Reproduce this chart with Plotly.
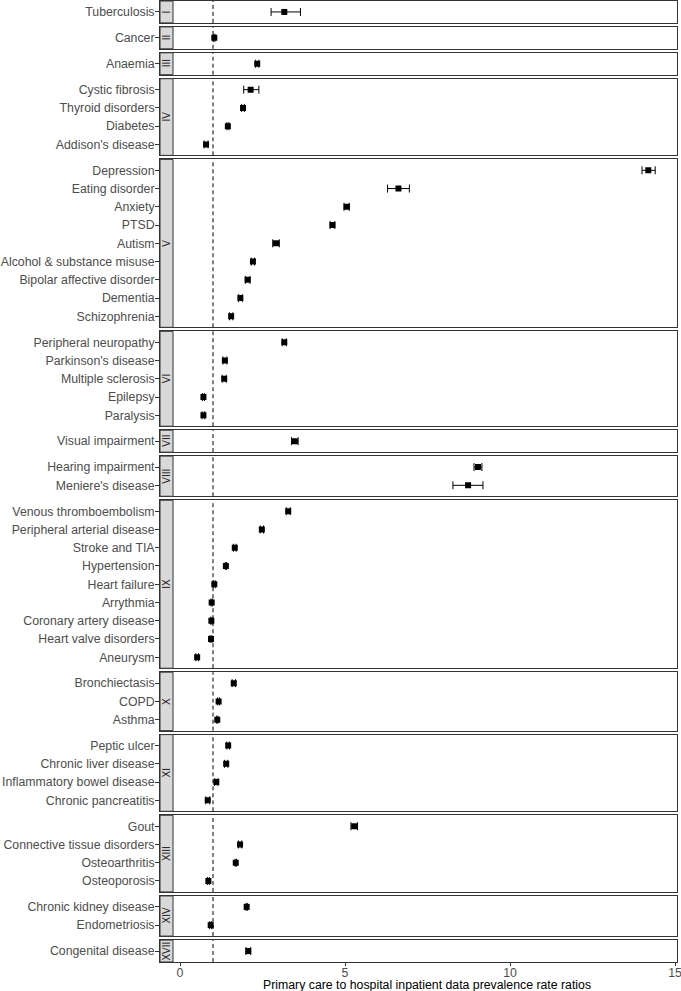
import plotly.graph_objects as go
from plotly.subplots import make_subplots

chapter_order = ["I", "II", "III", "IV", "V", "VI", "VII", "VIII", "IX", "X", "XI", "XIII", "XIV", "XVII"]

conditions = [
    "Tuberculosis", "Cancer", "Anaemia",
    "Cystic fibrosis", "Thyroid disorders", "Diabetes", "Addison's disease",
    "Depression", "Eating disorder", "Anxiety", "PTSD", "Autism",
    "Alcohol & substance misuse", "Bipolar affective disorder", "Dementia", "Schizophrenia",
    "Peripheral neuropathy", "Parkinson's disease", "Multiple sclerosis", "Epilepsy", "Paralysis",
    "Visual impairment",
    "Hearing impairment", "Meniere's disease",
    "Venous thromboembolism", "Peripheral arterial disease", "Stroke and TIA", "Hypertension",
    "Heart failure", "Arrythmia", "Coronary artery disease", "Heart valve disorders", "Aneurysm",
    "Bronchiectasis", "COPD", "Asthma",
    "Peptic ulcer", "Chronic liver disease", "Inflammatory bowel disease", "Chronic pancreatitis",
    "Gout", "Connective tissue disorders", "Osteoarthritis", "Osteoporosis",
    "Chronic kidney disease", "Endometriosis",
    "Congenital disease",
]

chapters = [
    "I", "II", "III",
    "IV", "IV", "IV", "IV",
    "V", "V", "V", "V", "V", "V", "V", "V", "V",
    "VI", "VI", "VI", "VI", "VI",
    "VII",
    "VIII", "VIII",
    "IX", "IX", "IX", "IX", "IX", "IX", "IX", "IX", "IX",
    "X", "X", "X",
    "XI", "XI", "XI", "XI",
    "XIII", "XIII", "XIII", "XIII",
    "XIV", "XIV",
    "XVII",
]

rate_ratio = [
    3.16, 1.04, 2.34,
    2.14, 1.91, 1.45, 0.79,
    14.19, 6.62, 5.05, 4.62, 2.91, 2.21, 2.05, 1.83, 1.55,
    3.16, 1.36, 1.34, 0.71, 0.71,
    3.48,
    9.03, 8.73,
    3.28, 2.48, 1.66, 1.39, 1.04, 0.96, 0.95, 0.94, 0.52,
    1.63, 1.17, 1.13,
    1.46, 1.40, 1.10, 0.84,
    5.28, 1.82, 1.69, 0.86,
    2.02, 0.93,
    2.07,
]

ci_lower = [
    2.76, 1.02, 2.29,
    1.93, 1.87, 1.42, 0.73,
    14.00, 6.29, 4.97, 4.55, 2.81, 2.16, 1.98, 1.77, 1.50,
    3.10, 1.30, 1.28, 0.68, 0.67,
    3.38,
    8.91, 8.27,
    3.22, 2.43, 1.62, 1.37, 1.01, 0.94, 0.93, 0.91, 0.48,
    1.58, 1.14, 1.11,
    1.42, 1.35, 1.05, 0.78,
    5.18, 1.77, 1.67, 0.83,
    2.00, 0.90,
    2.00,
]

ci_upper = [
    3.65, 1.06, 2.39,
    2.39, 1.95, 1.48, 0.85,
    14.40, 6.95, 5.13, 4.69, 3.01, 2.26, 2.12, 1.89, 1.60,
    3.22, 1.42, 1.40, 0.74, 0.75,
    3.58,
    9.15, 9.18,
    3.34, 2.53, 1.70, 1.41, 1.07, 0.98, 0.97, 0.97, 0.56,
    1.68, 1.20, 1.15,
    1.50, 1.45, 1.15, 0.90,
    5.38, 1.87, 1.71, 0.89,
    2.04, 0.96,
    2.14,
]

x_tick_values = [0, 5, 10, 15]
x_title = "Primary care to hospital inpatient data prevalence rate ratios"
reference_line = 1

W, H = 681, 991
ML, MR, MT, MB = 160, 4, 1, 29
plot_w = W - ML - MR
plot_h = H - MT - MB
px_per_unit = 33.0
x0_px = 180.0  # pixel position of x=0
x_range = [(ML - x0_px) / px_per_unit, (W - MR - x0_px) / px_per_unit]
strip_w = 13
FONT = "Liberation Sans, Arial, sans-serif"

groups = []
for ch in chapter_order:
    idx = [i for i, c in enumerate(chapters) if c == ch]
    groups.append((ch, idx))

row_heights = [len(idx) + 0.2 for _, idx in groups]
gap_px = 4

fig = make_subplots(rows=len(groups), cols=1, shared_xaxes=True,
                    row_heights=row_heights, vertical_spacing=gap_px / plot_h)

axis_color = "#333333"
text_color = "#4D4D4D"

for r, (ch, idx) in enumerate(groups, start=1):
    names = [conditions[i] for i in idx]
    xs = [rate_ratio[i] for i in idx]
    plus = [ci_upper[i] - rate_ratio[i] for i in idx]
    minus = [rate_ratio[i] - ci_lower[i] for i in idx]
    fig.add_trace(go.Scatter(
        x=xs, y=names, mode="markers",
        marker=dict(symbol="square", size=6, color="black"),
        error_x=dict(type="data", symmetric=False, array=plus, arrayminus=minus,
                     color="black", thickness=1, width=4),
        showlegend=False, hoverinfo="x+y",
    ), row=r, col=1)
    n = len(names)
    yname = "y" if r == 1 else f"y{r}"
    xname = "x" if r == 1 else f"x{r}"
    fig.update_yaxes(type="category", categoryorder="array", categoryarray=names,
                     range=[n - 0.4, -0.6], showline=True, mirror=True,
                     linecolor=axis_color, linewidth=1, ticks="outside", ticklen=4,
                     tickcolor=axis_color, showgrid=False, zeroline=False, automargin=False,
                     ticklabelstandoff=-2,
                     tickfont=dict(family=FONT, size=12.3, color=text_color),
                     fixedrange=True, row=r, col=1)
    last = r == len(groups)
    fig.update_xaxes(range=x_range, showline=True, mirror=True, linecolor=axis_color,
                     linewidth=1, showgrid=False, zeroline=False, automargin=False,
                     tickvals=x_tick_values, showticklabels=last,
                     ticks="outside" if last else "", ticklen=3, tickcolor=axis_color,
                     ticklabeloverflow="allow", ticklabelstandoff=-4,
                     tickfont=dict(family=FONT, size=12.3, color=text_color),
                     row=r, col=1)
    fig.add_shape(type="line", xref=xname, x0=reference_line, x1=reference_line,
                  yref=f"{yname} domain", y0=0, y1=1,
                  line=dict(color="black", width=1, dash="4px,3px"), layer="below")
    fig.add_shape(type="rect", xref="paper", x0=0, x1=strip_w / plot_w,
                  yref=f"{yname} domain", y0=0, y1=1,
                  fillcolor="#D9D9D9", line=dict(color=axis_color, width=1), layer="above")
    fig.add_annotation(text=ch, xref="paper", x=(strip_w / 2) / plot_w,
                       yref=f"{yname} domain", y=0.5, showarrow=False, textangle=-90,
                       font=dict(family=FONT, size=10, color="#1A1A1A"),
                       xanchor="center", yanchor="middle")

fig.add_annotation(text=x_title, xref="paper", x=(427 - ML) / plot_w,
                   yref="paper", y=-(984.5 - (H - MB)) / plot_h, showarrow=False,
                   xanchor="center", yanchor="middle",
                   font=dict(family=FONT, size=12.3, color="black"))

fig.update_layout(width=W, height=H, margin=dict(l=ML, r=MR, t=MT, b=MB, autoexpand=False),
                  plot_bgcolor="white", paper_bgcolor="white", showlegend=False)

fig.write_html("out.html", config={"displayModeBar": False},
               post_script="document.body.style.margin='0px';document.body.style.padding='0px';")
